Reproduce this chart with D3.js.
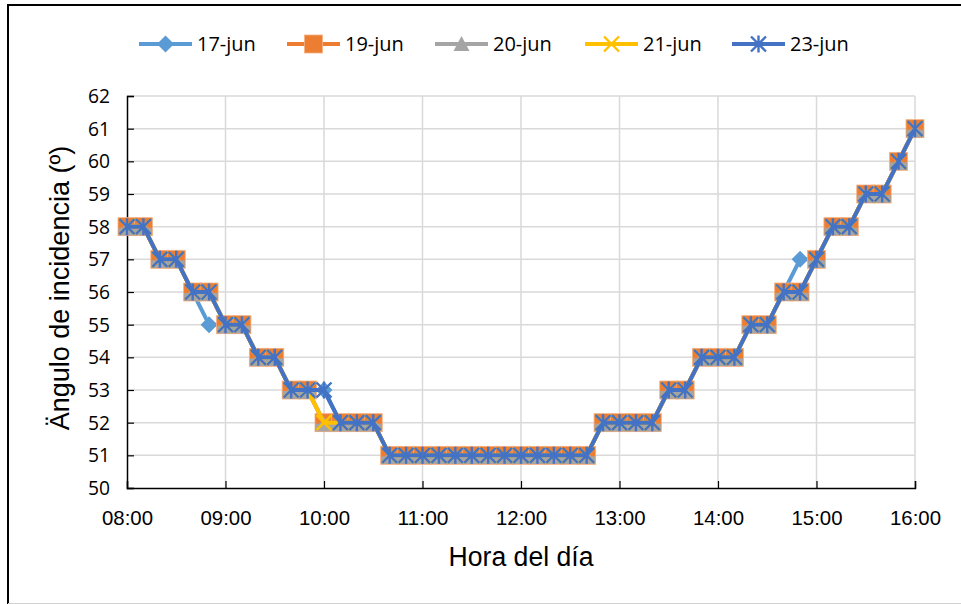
<!DOCTYPE html>
<html><head><meta charset="utf-8">
<script src="https://cdn.jsdelivr.net/npm/d3@7"></script>
<style>body{margin:0;background:#fff}svg{display:block}</style>
</head><body>
<svg id="c" width="961" height="604"></svg>
<script>
const times = ["08:00","08:10","08:20","08:30","08:40","08:50","09:00","09:10","09:20","09:30","09:40","09:50",
"10:00","10:10","10:20","10:30","10:40","10:50","11:00","11:10","11:20","11:30","11:40","11:50",
"12:00","12:10","12:20","12:30","12:40","12:50","13:00","13:10","13:20","13:30","13:40","13:50",
"14:00","14:10","14:20","14:30","14:40","14:50","15:00","15:10","15:20","15:30","15:40","15:50","16:00"];
const jun17 = [58,58,57,57,56,55,55,55,54,54,53,53,53,52,52,52,51,51,51,51,51,51,51,51,51,51,51,51,51,52,52,52,52,53,53,54,54,54,55,55,56,57,57,58,58,59,59,60,61];
const jun19 = [58,58,57,57,56,56,55,55,54,54,53,53,52,52,52,52,51,51,51,51,51,51,51,51,51,51,51,51,51,52,52,52,52,53,53,54,54,54,55,55,56,56,57,58,58,59,59,60,61];
const jun20 = [58,58,57,57,56,56,55,55,54,54,53,53,52,52,52,52,51,51,51,51,51,51,51,51,51,51,51,51,51,52,52,52,52,53,53,54,54,54,55,55,56,56,57,58,58,59,59,60,61];
const jun21 = [58,58,57,57,56,56,55,55,54,54,53,53,52,52,52,52,51,51,51,51,51,51,51,51,51,51,51,51,51,52,52,52,52,53,53,54,54,54,55,55,56,56,57,58,58,59,59,60,61];
const jun23 = [58,58,57,57,56,56,55,55,54,54,53,53,53,52,52,52,51,51,51,51,51,51,51,51,51,51,51,51,51,52,52,52,52,53,53,54,54,54,55,55,56,56,57,58,58,59,59,60,61];
const seriesNames = ["17-jun","19-jun","20-jun","21-jun","23-jun"];
const seriesValues = [jun17, jun19, jun20, jun21, jun23];
const seriesColors = ["#5B9BD5","#ED7D31","#A5A5A5","#FFC000","#4472C4"];
const seriesMarkers = ["diamond","square","triangle","x","star"];
const xTicks = ["08:00","09:00","10:00","11:00","12:00","13:00","14:00","15:00","16:00"];
const yTicks = [50,51,52,53,54,55,56,57,58,59,60,61,62];

const svg = d3.select("#c");
const toMin = t => { const [h,m] = t.split(":").map(Number); return h*60+m; };
const L=127, R=915, T=96, B=488;
const x = d3.scaleLinear().domain([toMin("08:00"), toMin("16:00")]).range([L,R]);
const y = d3.scaleLinear().domain([50,62]).range([B,T]);

// outer frame
svg.append("path").attr("d","M8,604 L8,5 L961,5").attr("fill","none").attr("stroke","#000").attr("stroke-width",2);
svg.append("line").attr("x1",8).attr("x2",961).attr("y1",603.5).attr("y2",603.5).attr("stroke","#d0d0d0");

// grid
const g = svg.append("g");
g.selectAll(".hg").data(yTicks.filter(v=>v>50)).enter().append("line")
 .attr("x1",L).attr("x2",R).attr("y1",d=>y(d)).attr("y2",d=>y(d)).attr("stroke","#D9D9D9").attr("stroke-width",1.5);
g.selectAll(".vg").data(xTicks.slice(1)).enter().append("line")
 .attr("x1",d=>x(toMin(d))).attr("x2",d=>x(toMin(d))).attr("y1",T).attr("y2",B).attr("stroke","#D9D9D9").attr("stroke-width",1.5);

// axes
const yAxis = d3.axisLeft(y).tickValues(yTicks).tickSize(-7).tickPadding(17);
const ya = svg.append("g").attr("transform",`translate(${L},0)`).call(yAxis);
ya.select(".domain").attr("stroke","#000").attr("stroke-width",1.5);
ya.selectAll(".tick line").attr("stroke","#000").attr("stroke-width",1.2);
ya.selectAll("text").attr("font-family","'Open Sans',sans-serif").attr("font-size",20).attr("fill","#000")
  .attr("textLength",22).attr("lengthAdjust","spacingAndGlyphs");

const xAxis = d3.axisBottom(x).tickValues(xTicks.map(toMin)).tickFormat((d,i)=>xTicks[i]).tickSize(-7).tickPadding(22);
const xa = svg.append("g").attr("transform",`translate(0,${B})`).call(xAxis);
xa.select(".domain").attr("stroke","#000").attr("stroke-width",1.5);
xa.selectAll(".tick line").attr("stroke","#000").attr("stroke-width",1.2);
xa.selectAll("text").attr("font-family","'Liberation Sans',Arial,sans-serif").attr("font-size",21).attr("fill","#000")
  .attr("textLength",51).attr("lengthAdjust","spacingAndGlyphs");

// titles
svg.append("text").attr("transform",`translate(69,288) rotate(-90)`).attr("text-anchor","middle")
 .attr("font-family","'Liberation Sans',Arial,sans-serif").attr("font-size",27).text("Ängulo de incidencia (º)");
svg.append("text").attr("x",521).attr("y",566).attr("text-anchor","middle")
 .attr("font-family","'Liberation Sans',Arial,sans-serif").attr("font-size",27)
 .attr("textLength",145).attr("lengthAdjust","spacingAndGlyphs").text("Hora del día");

function marker(sel, type, color, cx, cy, legend){
  if(type==="diamond"){
    sel.append("path").attr("d",`M${cx},${cy-8.5}L${cx+8.5},${cy}L${cx},${cy+8.5}L${cx-8.5},${cy}Z`).attr("fill",color);
  } else if(type==="square"){
    sel.append("rect").attr("x",cx-9).attr("y",cy-9).attr("width",18).attr("height",18).attr("fill",color).attr("stroke","#F4B183").attr("stroke-width",0.8);
  } else if(type==="triangle"){
    if(legend){
      sel.append("path").attr("d",`M${cx},${cy-8}L${cx+8},${cy+7}L${cx-8},${cy+7}Z`).attr("fill",color);
    } else {
      sel.append("path").attr("d",`M${cx},${cy-6}L${cx+8.5},${cy+8.5}L${cx-8.5},${cy+8.5}Z`).attr("fill",color);
      sel.append("rect").attr("x",cx-8.5).attr("y",cy+1).attr("width",17).attr("height",7.5).attr("fill",color);
    }
  } else if(type==="x"){
    sel.append("path").attr("d",`M${cx-7.5},${cy-7.5}L${cx+7.5},${cy+7.5}M${cx-7.5},${cy+7.5}L${cx+7.5},${cy-7.5}`).attr("stroke",color).attr("stroke-width",2.4);
  } else if(type==="star"){
    sel.append("path").attr("d",`M${cx-7.5},${cy-7.5}L${cx+7.5},${cy+7.5}M${cx-7.5},${cy+7.5}L${cx+7.5},${cy-7.5}M${cx},${cy-8.5}L${cx},${cy+8.5}`).attr("stroke",color).attr("stroke-width",2.4);
  }
}

// series
const line = d3.line().x((d,i)=>x(toMin(times[i]))).y(d=>y(d));
seriesValues.forEach((vals,si)=>{
  const sg = svg.append("g");
  sg.append("path").datum(vals).attr("d",line).attr("fill","none").attr("stroke",seriesColors[si]).attr("stroke-width",4).attr("stroke-linejoin","round");
  vals.forEach((v,i)=>marker(sg, seriesMarkers[si], seriesColors[si], x(toMin(times[i])), y(v), false));
});

// legend
const legX = [139,287,435,585,732];
seriesNames.forEach((n,i)=>{
  const lg = svg.append("g");
  lg.append("line").attr("x1",legX[i]).attr("x2",legX[i]+53).attr("y1",44).attr("y2",44).attr("stroke",seriesColors[i]).attr("stroke-width",4);
  marker(lg, seriesMarkers[i], seriesColors[i], legX[i]+26.5, 44, true);
  lg.append("text").attr("x",legX[i]+58).attr("y",51).attr("font-family","'Open Sans',sans-serif").attr("font-size",20).text(n);
});
</script>
</body></html>
